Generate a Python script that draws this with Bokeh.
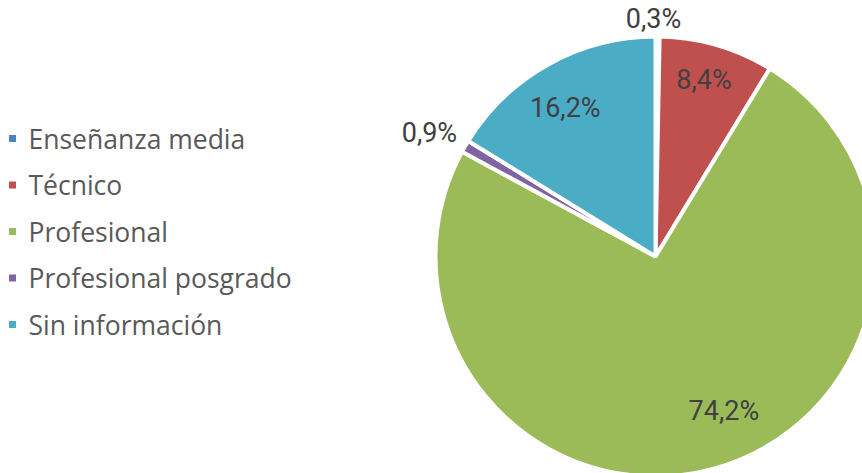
import math
from bokeh.plotting import figure
from bokeh.models import ColumnDataSource, Range1d
from bokeh.core.properties import value
from bokeh.embed import file_html
from bokeh.resources import INLINE

# ---- data ----
categories = ["Enseñanza media", "Técnico", "Profesional", "Profesional posgrado", "Sin información"]
shares = [0.3, 8.4, 74.2, 0.9, 16.2]
colors = ["#4F81BD", "#C0504D", "#9BBB59", "#8064A2", "#4BACC6"]

# ---- label placement styles (radius fraction, angular shift in degrees) ----
label_frac = [1.08, 0.83, 0.77, 1.17, 0.79]
label_shift = [-1.0, -0.8, -8.7, -1.5, -2.1]

W, H = 862, 473
cx, cy, R = 655, 217, 220

total = sum(shares)
starts, ends, lx, ly, labels = [], [], [], [], []
cum = 0.0
for i, v in enumerate(shares):
    a0 = cum / total * 360.0
    cum += v
    a1 = cum / total * 360.0
    starts.append(math.radians(90 - a0))
    ends.append(math.radians(90 - a1))
    mid = (a0 + a1) / 2 + label_shift[i]
    th = math.radians(90 - mid)
    lx.append(cx + R * label_frac[i] * math.cos(th))
    ly.append(cy + R * label_frac[i] * math.sin(th))
    labels.append(f"{v:.1f}".replace(".", ",") + "%")

src = ColumnDataSource(dict(start=starts, end=ends, color=colors, cat=categories,
                            lx=lx, ly=ly, label=labels))

p = figure(width=W, height=H, x_range=Range1d(0, W), y_range=Range1d(0, H),
           output_backend="svg", toolbar_location=None, min_border=0)
p.axis.visible = False
p.grid.visible = False
p.outline_line_color = None
p.background_fill_color = "white"

p.wedge(x=cx, y=cy, radius=R, start_angle="start", end_angle="end", direction="clock",
        fill_color="color", line_color="white", line_width=4, source=src)

p.text(x="lx", y="ly", text="label", source=src, text_align="center", text_baseline="middle",
       text_font=value("Roboto"), text_font_size="27px", text_color="#404040")

# ---- legend (manual) ----
top_y, pitch = 335, 46.5
leg = ColumnDataSource(dict(
    y=[top_y - i * pitch for i in range(len(categories))],
    cat=categories, color=colors))
p.scatter(x=12, y="y", marker="square", size=7, fill_color="color", line_color=None, source=leg)
p.text(x=28, y="y", text="cat", source=leg, text_align="left", text_baseline="middle",
       text_font=value("Open Sans"), text_font_size="26.5px", text_color="#595959")

open("out.html", "w").write(file_html(p, INLINE))
